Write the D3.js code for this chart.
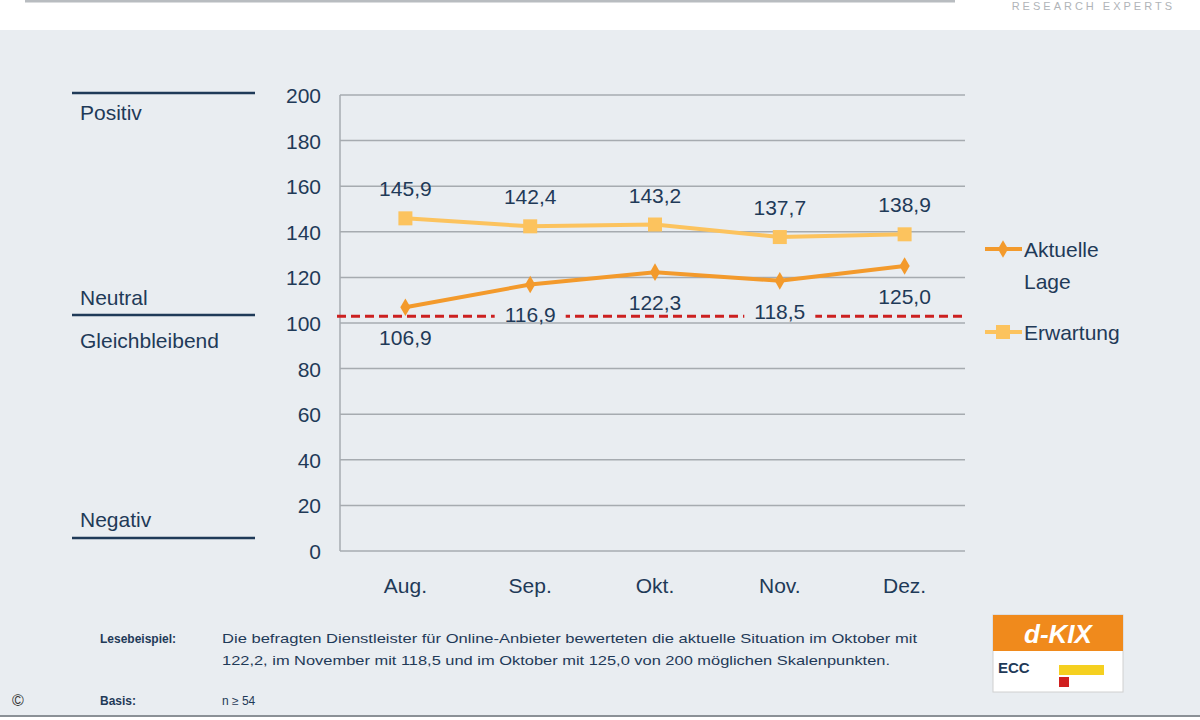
<!DOCTYPE html>
<html><head><meta charset="utf-8">
<script src="https://cdn.jsdelivr.net/npm/d3@7"></script>
<style>body{margin:0;font-family:Arial,"Liberation Sans",sans-serif;}</style>
</head><body>
<script>
// chart data
var months = ["Aug.", "Sep.", "Okt.", "Nov.", "Dez."];
var aktuelle = [106.9, 116.9, 122.3, 118.5, 125.0];
var erwartung = [145.9, 142.4, 143.2, 137.7, 138.9];
var yTicks = [0, 20, 40, 60, 80, 100, 120, 140, 160, 180, 200];
var neutralLine = 103;

var width = 1200, height = 720;
var svg = d3.select("body").append("svg").attr("width", width).attr("height", height);

// background
svg.append("rect").attr("width", width).attr("height", height).attr("fill", "#ffffff");
svg.append("rect").attr("y", 30).attr("width", width).attr("height", 686).attr("fill", "#e9edf1");
svg.append("line").attr("x1", 25).attr("x2", 955).attr("y1", 1).attr("y2", 1)
  .attr("stroke", "#b8bcc0").attr("stroke-width", 3);
svg.append("text").attr("x", 1175).attr("y", 10).attr("text-anchor", "end")
  .attr("font-size", 11).attr("letter-spacing", 3).attr("fill", "#b0b4b8").text("RESEARCH EXPERTS");
svg.append("line").attr("x1", 0).attr("x2", width).attr("y1", 716).attr("y2", 716)
  .attr("stroke", "#8a9096").attr("stroke-width", 2);

var x = d3.scaleBand().domain(months).range([343, 967]);
var y = d3.scaleLinear().domain([0, 200]).range([551, 95]);

// grid
svg.selectAll(".grid").data(yTicks).enter().append("line")
  .attr("x1", 340).attr("x2", 965)
  .attr("y1", function(d){ return y(d); }).attr("y2", function(d){ return y(d); })
  .attr("stroke", "#a6abb0").attr("stroke-width", 1.5);
svg.append("line").attr("x1", 340).attr("x2", 340).attr("y1", y(200)).attr("y2", y(0))
  .attr("stroke", "#a6abb0").attr("stroke-width", 1.5);

// y ticks
svg.selectAll(".ytick").data(yTicks).enter().append("text")
  .attr("x", 321).attr("y", function(d){ return y(d) + 8; })
  .attr("text-anchor", "end").attr("font-size", 21).attr("fill", "#1f3a58")
  .text(function(d){ return d; });

// x labels
svg.selectAll(".xlab").data(months).enter().append("text")
  .attr("x", function(d){ return x(d) + x.bandwidth() / 2; }).attr("y", 593)
  .attr("text-anchor", "middle").attr("font-size", 21).attr("fill", "#1f3a58")
  .text(function(d){ return d; });

// red dashed neutral line
svg.append("line").attr("x1", 337).attr("x2", 965)
  .attr("y1", y(neutralLine)).attr("y2", y(neutralLine))
  .attr("stroke", "#cc2020").attr("stroke-width", 3).attr("stroke-dasharray", "9,5");

// left labels
var side = [["Positiv", 93, 120], ["Neutral", 315, 305], ["Gleichbleibend", null, 348], ["Negativ", 538, 527]];
side.forEach(function(s){
  if (s[1] !== null) svg.append("line").attr("x1", 72).attr("x2", 255).attr("y1", s[1]).attr("y2", s[1])
    .attr("stroke", "#1f3a58").attr("stroke-width", 2.5);
  svg.append("text").attr("x", 80).attr("y", s[2]).attr("font-size", 21).attr("fill", "#1f3a58").text(s[0]);
});

var line = d3.line().x(function(d, i){ return x(months[i]) + x.bandwidth() / 2; }).y(function(d){ return y(d); });

// Erwartung
svg.append("path").datum(erwartung).attr("d", line).attr("fill", "none")
  .attr("stroke", "#fcc35e").attr("stroke-width", 4);
svg.selectAll(".em").data(erwartung).enter().append("rect")
  .attr("x", function(d, i){ return x(months[i]) + x.bandwidth() / 2 - 7; })
  .attr("y", function(d){ return y(d) - 7; })
  .attr("width", 14).attr("height", 14).attr("fill", "#fcc35e");
svg.selectAll(".el").data(erwartung).enter().append("text")
  .attr("x", function(d, i){ return x(months[i]) + x.bandwidth() / 2; })
  .attr("y", function(d){ return y(d) - 22; })
  .attr("text-anchor", "middle").attr("font-size", 21).attr("fill", "#1f3a58")
  .text(function(d){ return d3.format(".1f")(d).replace(".", ","); });

// Aktuelle Lage
svg.append("path").datum(aktuelle).attr("d", line).attr("fill", "none")
  .attr("stroke", "#f39a2c").attr("stroke-width", 4);
svg.selectAll(".am").data(aktuelle).enter().append("path")
  .attr("transform", function(d, i){ return "translate(" + (x(months[i]) + x.bandwidth() / 2) + "," + y(d) + ")"; })
  .attr("d", d3.symbol(d3.symbolDiamond, 90)).attr("fill", "#f39a2c");
// labels below the points; dashed line is masked where a label crosses it
aktuelle.forEach(function(d, i){
  var cx = x(months[i]) + x.bandwidth() / 2;
  var ly = y(d) + 38;
  var t = svg.append("text").attr("x", cx).attr("y", ly)
    .attr("text-anchor", "middle").attr("font-size", 21).attr("fill", "#1f3a58")
    .text(d3.format(".1f")(d).replace(".", ","));
  var bb = t.node().getBBox();
  var ly0 = y(neutralLine);
  if (bb.y < ly0 + 2 && bb.y + bb.height > ly0 + 4) {
    svg.insert("rect", function(){ return t.node(); })
      .attr("x", bb.x - 10).attr("y", ly0 - 3).attr("width", bb.width + 20).attr("height", 6)
      .attr("fill", "#e9edf1");
  }
});

// legend
svg.append("line").attr("x1", 985).attr("x2", 1022).attr("y1", 249).attr("y2", 249)
  .attr("stroke", "#f39a2c").attr("stroke-width", 4);
svg.append("path").attr("transform", "translate(1003,249)").attr("d", d3.symbol(d3.symbolDiamond, 90)).attr("fill", "#f39a2c");
svg.append("text").attr("x", 1024).attr("y", 257).attr("font-size", 21).attr("fill", "#1f3a58").text("Aktuelle");
svg.append("text").attr("x", 1024).attr("y", 289).attr("font-size", 21).attr("fill", "#1f3a58").text("Lage");
svg.append("line").attr("x1", 985).attr("x2", 1022).attr("y1", 332).attr("y2", 332)
  .attr("stroke", "#fcc35e").attr("stroke-width", 4);
svg.append("rect").attr("x", 996).attr("y", 325).attr("width", 14).attr("height", 14).attr("fill", "#fcc35e");
svg.append("text").attr("x", 1024).attr("y", 340).attr("font-size", 21).attr("fill", "#1f3a58").text("Erwartung");

// footnote
svg.append("text").attr("x", 100).attr("y", 643).attr("font-size", 12).attr("font-weight", "bold").attr("fill", "#1f3a58").text("Lesebeispiel:");
svg.append("text").attr("x", 222).attr("y", 643).attr("font-size", 13).attr("fill", "#1f3a58")
  .attr("textLength", 695).attr("lengthAdjust", "spacingAndGlyphs")
  .text("Die befragten Dienstleister für Online-Anbieter bewerteten die aktuelle Situation im Oktober mit");
svg.append("text").attr("x", 222).attr("y", 665).attr("font-size", 13).attr("fill", "#1f3a58")
  .attr("textLength", 668).attr("lengthAdjust", "spacingAndGlyphs")
  .text("122,2, im November mit 118,5 und im Oktober mit 125,0 von 200 möglichen Skalenpunkten.");
svg.append("text").attr("x", 100).attr("y", 705).attr("font-size", 12).attr("font-weight", "bold").attr("fill", "#1f3a58").text("Basis:");
svg.append("text").attr("x", 222).attr("y", 705).attr("font-size", 12).attr("fill", "#1f3a58").text("n ≥ 54");
svg.append("text").attr("x", 12).attr("y", 706).attr("font-size", 16).attr("fill", "#333").text("©");

// logo
var logo = svg.append("g").attr("transform", "translate(993,615)");
logo.append("rect").attr("width", 130).attr("height", 77).attr("fill", "#ffffff").attr("stroke", "#d0d0d0");
logo.append("rect").attr("width", 130).attr("height", 36).attr("fill", "#f08a1c");
logo.append("text").attr("x", 65).attr("y", 28).attr("text-anchor", "middle").attr("font-size", 26)
  .attr("font-weight", "bold").attr("font-style", "italic").attr("fill", "#ffffff").text("d-KIX");
logo.append("text").attr("x", 5).attr("y", 58).attr("font-size", 15).attr("font-weight", "bold").attr("fill", "#1f3a58").text("ECC");
logo.append("rect").attr("x", 66).attr("y", 50).attr("width", 45).attr("height", 10).attr("fill", "#f5d020");
logo.append("rect").attr("x", 66).attr("y", 62).attr("width", 10).attr("height", 10).attr("fill", "#d02020");
</script>
</body></html>
